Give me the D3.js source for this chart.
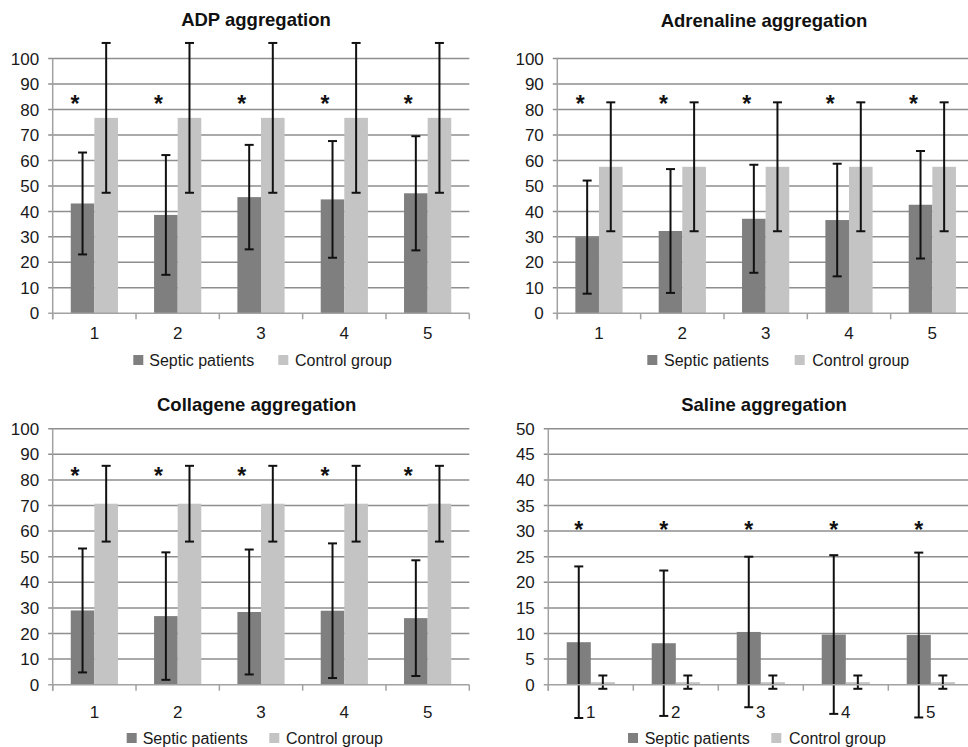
<!DOCTYPE html>
<html>
<head>
<meta charset="utf-8">
<script src="https://cdn.jsdelivr.net/npm/d3@7"></script>
<style>
  html, body { margin: 0; padding: 0; background: #fff; }
  svg { display: block; font-family: "Liberation Sans", Arial, Helvetica, sans-serif; }
</style>
</head>
<body>
<svg id="chart" width="968" height="747"></svg>
<script>
// ---------- data ----------
const categories = ["1", "2", "3", "4", "5"];
const seriesNames = ["Septic patients", "Control group"];

const adpSeptic       = [43.1, 38.6, 45.6, 44.7, 47.1];
const adpSepticErr    = [20.0, 23.5, 20.5, 22.9, 22.4];
const adpControl      = [76.7, 76.7, 76.7, 76.7, 76.7];
const adpControlErr   = [29.4, 29.4, 29.4, 29.4, 29.4];

const adrSeptic       = [29.9, 32.3, 37.1, 36.6, 42.6];
const adrSepticErr    = [22.2, 24.3, 21.2, 22.1, 21.1];
const adrControl      = [57.5, 57.5, 57.5, 57.5, 57.5];
const adrControlErr   = [25.3, 25.3, 25.3, 25.3, 25.3];

const colSeptic       = [29.0, 26.8, 28.4, 28.9, 26.0];
const colSepticErr    = [24.2, 24.9, 24.4, 26.3, 22.6];
const colControl      = [70.7, 70.7, 70.7, 70.7, 70.7];
const colControlErr   = [14.8, 14.8, 14.8, 14.8, 14.8];

const salSeptic       = [8.3, 8.1, 10.3, 9.8, 9.7];
const salSepticErr    = [14.8, 14.2, 14.7, 15.5, 16.1];
const salControl      = [0.5, 0.5, 0.5, 0.5, 0.5];
const salControlErr   = [1.3, 1.3, 1.3, 1.3, 1.3];

const tick100 = [0, 10, 20, 30, 40, 50, 60, 70, 80, 90, 100];
const tick50  = [0, 5, 10, 15, 20, 25, 30, 35, 40, 45, 50];

const titles = ["ADP aggregation", "Adrenaline aggregation", "Collagene aggregation", "Saline aggregation"];
const starValues = [84.5, 84.5, 84, 31.5];

// ---------- layout ----------
const panels = [
  { title: titles[0], septic: adpSeptic, septicErr: adpSepticErr, control: adpControl, controlErr: adpControlErr,
    ticks: tick100, star: starValues[0],
    left: 52.7, right: 469.3, top: 58.5, bottom: 313.3, titleX: 256, titleY: 26,
    xLabelY: 339, legendY: 360, legendSq: [133.3, 278.3], legendTx: [149.3, 295], starDx: -7.5 },
  { title: titles[1], septic: adrSeptic, septicErr: adrSepticErr, control: adrControl, controlErr: adrControlErr,
    ticks: tick100, star: starValues[1],
    left: 557.3, right: 974, top: 58.5, bottom: 313.3, titleX: 764, titleY: 27,
    xLabelY: 339, legendY: 360, legendSq: [647.3, 794.7], legendTx: [664, 812.3], starDx: -7 },
  { title: titles[2], septic: colSeptic, septicErr: colSepticErr, control: colControl, controlErr: colControlErr,
    ticks: tick100, star: starValues[2],
    left: 52.7, right: 469.3, top: 428.7, bottom: 684.7, titleX: 256.7, titleY: 411,
    xLabelY: 718, legendY: 738, legendSq: [126.7, 269.3], legendTx: [142.7, 286], starDx: -7.5 },
  { title: titles[3], septic: salSeptic, septicErr: salSepticErr, control: salControl, controlErr: salControlErr,
    ticks: tick50, star: starValues[3],
    left: 548.3, right: 973.3, top: 428.7, bottom: 684.7, titleX: 764, titleY: 411,
    xLabelY: 718, legendY: 738, legendSq: [628, 771.3], legendTx: [644.7, 789], starDx: 0 }
];

const colors = ["#7f7f7f", "#c4c4c4"];
const gridColor = "#8e8e8e";
const axisColor = "#a2a2a2";

const svg = d3.select("#chart");

panels.forEach(p => {
  const g = svg.append("g");
  const yMax = p.ticks[p.ticks.length - 1];
  const y = d3.scaleLinear().domain([0, yMax]).range([p.bottom, p.top]);
  const x0 = d3.scaleBand().domain(categories).range([p.left, p.right]).paddingInner(0).paddingOuter(0);
  const x1 = d3.scaleBand().domain(seriesNames).range([0, x0.bandwidth()]).paddingInner(0).paddingOuter(0.765);

  // gridlines (excluding 0)
  g.append("g").selectAll("line").data(p.ticks.filter(t => t > 0)).join("line")
    .attr("x1", p.left - 4.5).attr("x2", p.right)
    .attr("y1", d => y(d)).attr("y2", d => y(d))
    .attr("stroke", gridColor).attr("stroke-width", 1.5);

  // y tick labels
  g.append("g").selectAll("text").data(p.ticks).join("text")
    .attr("x", p.left - 13.5).attr("y", d => y(d))
    .attr("dy", "0.36em")
    .attr("text-anchor", "end")
    .attr("font-size", 17).attr("fill", "#1a1a1a")
    .text(d => d);

  // bars
  const rows = categories.map((c, i) => ({
    cat: c,
    vals: [
      { s: seriesNames[0], v: p.septic[i], e: p.septicErr[i], k: 0 },
      { s: seriesNames[1], v: p.control[i], e: p.controlErr[i], k: 1 }
    ]
  }));

  const cg = g.append("g").selectAll("g").data(rows).join("g")
    .attr("transform", d => `translate(${x0(d.cat)},0)`);

  cg.selectAll("rect").data(d => d.vals).join("rect")
    .attr("x", d => x1(d.s)).attr("width", x1.bandwidth())
    .attr("y", d => y(d.v)).attr("height", d => y(0) - y(d.v))
    .attr("fill", d => colors[d.k]);

  // axes
  g.append("line").attr("x1", p.left).attr("x2", p.left)
    .attr("y1", p.top).attr("y2", p.bottom + 6)
    .attr("stroke", axisColor).attr("stroke-width", 1.5);
  g.append("line").attr("x1", p.left - 4.5).attr("x2", p.right)
    .attr("y1", p.bottom).attr("y2", p.bottom)
    .attr("stroke", axisColor).attr("stroke-width", 1.5);
  const bounds = categories.map(c => x0(c)).concat([x0(categories[categories.length - 1]) + x0.bandwidth()]);
  g.append("g").selectAll("line").data(bounds).join("line")
    .attr("x1", d => d).attr("x2", d => d)
    .attr("y1", p.bottom).attr("y2", p.bottom + 6)
    .attr("stroke", axisColor).attr("stroke-width", 1.5);

  // error bars
  const eg = cg.selectAll("g.err").data(d => d.vals).join("g").attr("class", "err");
  const cx = d => x1(d.s) + x1.bandwidth() / 2;
  eg.append("line").attr("x1", cx).attr("x2", cx)
    .attr("y1", d => y(d.v + d.e)).attr("y2", d => y(d.v - d.e))
    .attr("stroke", "#111").attr("stroke-width", 2);
  eg.append("line").attr("x1", d => cx(d) - 4.5).attr("x2", d => cx(d) + 4.5)
    .attr("y1", d => y(d.v + d.e)).attr("y2", d => y(d.v + d.e))
    .attr("stroke", "#111").attr("stroke-width", 2);
  eg.append("line").attr("x1", d => cx(d) - 4.5).attr("x2", d => cx(d) + 4.5)
    .attr("y1", d => y(d.v - d.e)).attr("y2", d => y(d.v - d.e))
    .attr("stroke", "#111").attr("stroke-width", 2);

  // stars
  cg.append("text")
    .attr("x", x1(seriesNames[0]) + x1.bandwidth() / 2 + p.starDx)
    .attr("y", y(p.star))
    .attr("dy", "0.62em")
    .attr("text-anchor", "middle")
    .attr("font-size", 23).attr("font-weight", "bold").attr("fill", "#111")
    .text("*");

  // x labels
  g.append("g").selectAll("text").data(categories).join("text")
    .attr("x", d => x0(d) + x0.bandwidth() / 2).attr("y", p.xLabelY)
    .attr("text-anchor", "middle")
    .attr("font-size", 17).attr("fill", "#1a1a1a")
    .text(d => d);

  // title
  g.append("text").attr("x", p.titleX).attr("y", p.titleY)
    .attr("text-anchor", "middle").attr("font-size", 18.5).attr("font-weight", "bold")
    .attr("fill", "#111").text(p.title);

  // legend
  seriesNames.forEach((s, k) => {
    g.append("rect").attr("x", p.legendSq[k]).attr("y", p.legendY - 5)
      .attr("width", 10).attr("height", 10).attr("fill", colors[k]);
    g.append("text").attr("x", p.legendTx[k]).attr("y", p.legendY + 6)
      .attr("font-size", 16).attr("fill", "#1a1a1a").text(s);
  });
});
</script>
</body>
</html>
